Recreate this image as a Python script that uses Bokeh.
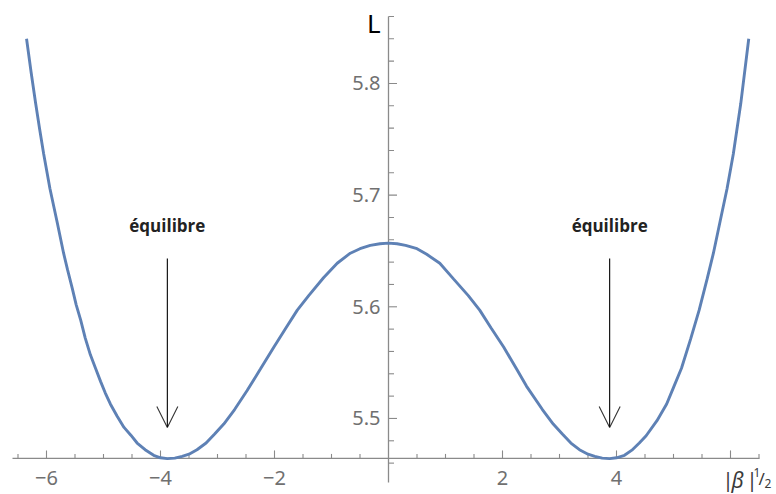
import numpy as np
from bokeh.plotting import figure
from bokeh.models import Range1d, Label, Arrow, OpenHead
from bokeh.core.properties import value
from bokeh.embed import file_html
from bokeh.resources import INLINE

# Sampled curve: L as a function of |beta|^(1/2)
beta = [-6.35, -6.27, -6.19, -6.12, -6.05, -5.94, -5.81, -5.70, -5.63, -5.55,
        -5.48, -5.40, -5.32, -5.23, -5.14, -5.05, -4.97, -4.88, -4.76, -4.64,
        -4.52, -4.41, -4.27, -4.12, -4.00, -3.88, -3.75, -3.62, -3.50, -3.36,
        -3.20, -3.05, -2.89, -2.70, -2.48, -2.25, -2.01, -1.80, -1.60, -1.40,
        -1.14, -0.90, -0.67, -0.50, -0.32, -0.15, 0.00,
        0.15, 0.30, 0.50, 0.67, 0.90, 1.14, 1.40, 1.60, 1.80, 2.02,
        2.25, 2.42, 2.70, 2.89, 3.05, 3.20, 3.35, 3.50, 3.62, 3.75,
        3.88, 4.00, 4.14, 4.27, 4.40, 4.52, 4.71, 4.88, 5.01, 5.14,
        5.30, 5.45, 5.59, 5.70, 5.82, 5.94, 6.05, 6.18, 6.32]
L = [5.840, 5.810, 5.782, 5.759, 5.737, 5.706, 5.675, 5.648, 5.633, 5.617,
     5.602, 5.588, 5.572, 5.557, 5.545, 5.533, 5.523, 5.513, 5.502, 5.492,
     5.485, 5.478, 5.472, 5.467, 5.4648, 5.464, 5.4645, 5.466, 5.468, 5.472,
     5.478, 5.486, 5.495, 5.508, 5.525, 5.544, 5.564, 5.581, 5.597, 5.610,
     5.626, 5.639, 5.648, 5.652, 5.655, 5.6565, 5.657,
     5.6565, 5.655, 5.652, 5.647, 5.639, 5.625, 5.610, 5.597, 5.581, 5.564,
     5.544, 5.529, 5.508, 5.495, 5.486, 5.478, 5.472, 5.468, 5.466, 5.4645,
     5.464, 5.4648, 5.467, 5.4716, 5.478, 5.4845, 5.498, 5.513, 5.529, 5.545,
     5.571, 5.597, 5.625, 5.648, 5.677, 5.706, 5.737, 5.782, 5.840]

# Equilibrium positions (the two minima)
eq_beta = [-3.88, 3.88]
eq_text = ["équilibre", "équilibre"]

# Axis ticks
x_major = [-6, -4, -2, 2, 4, 6]
x_minor = [-6.5, -5.5, -5, -4.5, -3.5, -3, -2.5, -1.5, -1, -0.5,
           0.5, 1, 1.5, 2.5, 3, 3.5, 4.5, 5, 5.5, 6.5]
x_tick_vals = [-6, -4, -2, 2, 4]
x_tick_text = ["\u22126", "\u22124", "\u22122", "2", "4"]

y_major = [5.5, 5.6, 5.7, 5.8]
y_minor = [5.46, 5.48, 5.52, 5.54, 5.56, 5.58, 5.62, 5.64, 5.66, 5.68,
           5.72, 5.74, 5.76, 5.78, 5.82, 5.84, 5.86]
y_tick_text = ["5.5", "5.6", "5.7", "5.8"]

# Canvas geometry
W, H = 776, 494
X0, X1 = -6.807, 6.807
Y0, Y1 = 5.4319, 5.8743
SX = W / (X1 - X0)          # pixels per unit along x
SY = H / (Y1 - Y0)          # pixels per unit along y


def dx(px):
    return X0 + px / SX


def dy(py):
    return Y1 - py / SY


AXIS_Y = 5.4642             # where the horizontal axis crosses
AXIS_COLOR = "#8a8a8a"
TICK_LABEL_COLOR = "#707070"
CURVE_COLOR = "#5E81B5"
FONT = "Noto Sans"

p = figure(width=W, height=H, x_range=Range1d(X0, X1), y_range=Range1d(Y0, Y1),
           min_border=0, toolbar_location=None, output_backend="svg",
           x_axis_type=None, y_axis_type=None, outline_line_color=None,
           background_fill_color="white", border_fill_color="white")

# Axis lines
p.segment(x0=[dx(12)], y0=[AXIS_Y], x1=[dx(759)], y1=[AXIS_Y],
          line_color=AXIS_COLOR, line_width=1.3)
p.segment(x0=[0], y0=[dy(482)], x1=[0], y1=[5.86],
          line_color=AXIS_COLOR, line_width=1.3)

# x ticks (pointing up)
p.segment(x0=x_major, y0=[AXIS_Y] * len(x_major), x1=x_major,
          y1=[AXIS_Y + 8 / SY] * len(x_major), line_color=AXIS_COLOR, line_width=1.1)
p.segment(x0=x_minor, y0=[AXIS_Y] * len(x_minor), x1=x_minor,
          y1=[AXIS_Y + 4.5 / SY] * len(x_minor), line_color=AXIS_COLOR, line_width=1.1)

# y ticks (pointing right)
p.segment(x0=[0] * len(y_major), y0=y_major, x1=[8.5 / SX] * len(y_major), y1=y_major,
          line_color=AXIS_COLOR, line_width=1.1)
p.segment(x0=[0] * len(y_minor), y0=y_minor, x1=[5.5 / SX] * len(y_minor), y1=y_minor,
          line_color=AXIS_COLOR, line_width=1.1)

# Tick labels
p.text(x=x_tick_vals, y=[dy(477)] * len(x_tick_vals), text=x_tick_text,
       text_align="center", text_baseline="middle",
       text_font=value(FONT), text_font_size="20px", text_color=TICK_LABEL_COLOR)
p.text(x=[-8 / SX] * len(y_major), y=y_major, text=y_tick_text,
       text_align="right", text_baseline="middle",
       text_font=value(FONT), text_font_size="20px", text_color=TICK_LABEL_COLOR)

# Curve
p.line(beta, L, line_color=CURVE_COLOR, line_width=2.9)

# Equilibrium markers
for xb in eq_beta:
    p.add_layout(Arrow(x_start=xb, y_start=dy(258), x_end=xb, y_end=dy(427),
                       line_color="black", line_width=1.1,
                       end=OpenHead(size=21, line_color="#333333", line_width=1.1)))
p.text(x=eq_beta, y=[dy(225)] * 2, text=eq_text, text_align="center",
       text_baseline="middle", text_font=value("Open Sans"),
       text_font_style="bold", text_font_size="17px", text_color="#222222")

# Axis titles
label_style = dict(text_baseline="middle", text_font=FONT, text_color="#3a3a3a")
p.add_layout(Label(x=dx(380), y=dy(22), text="L", text_align="right",
                   text_baseline="middle", text_font=FONT,
                   text_font_size="26px", text_color="black"))
p.add_layout(Label(x=dx(722), y=dy(479), text="|", text_align="left",
                   text_font_size="20px", **label_style))
p.add_layout(Label(x=dx(731), y=dy(479), text="β", text_align="left",
                   text_font_style="italic", text_font_size="21px", **label_style))
p.add_layout(Label(x=dx(746), y=dy(479), text="|", text_align="left",
                   text_font_size="20px", **label_style))
p.add_layout(Label(x=dx(753), y=dy(472), text="1", text_align="left",
                   text_font_size="12px", **label_style))
p.add_layout(Label(x=dx(758), y=dy(478), text="/", text_align="left",
                   text_font_size="17px", **label_style))
p.add_layout(Label(x=dx(764), y=dy(483), text="2", text_align="left",
                   text_font_size="12px", **label_style))

open("out.html", "w").write(file_html(p, INLINE))
